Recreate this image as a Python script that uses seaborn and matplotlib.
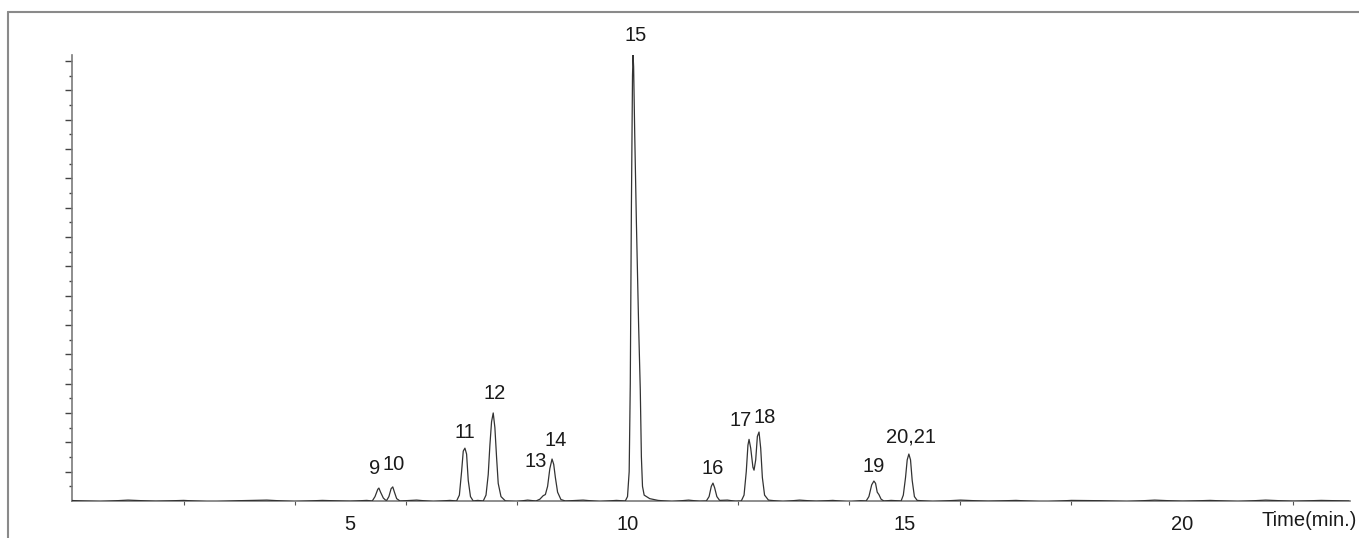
import matplotlib
matplotlib.use("Agg")
import matplotlib.pyplot as plt
from matplotlib.lines import Line2D
import seaborn as sns
import pandas as pd

# trace: retention time (min) and detector signal (arb. units)
time_min = [
    -0.08, 0.5, 1.0, 1.5, 2.0, 2.5, 3.0, 3.5, 4.0, 4.5, 5.0, 5.3,
    5.40, 5.45, 5.50, 5.52, 5.55, 5.60, 5.64,
    5.66, 5.70, 5.74, 5.77, 5.80, 5.84, 5.90,
    6.2, 6.5, 6.8,
    6.92, 6.97, 7.01, 7.04, 7.07, 7.10, 7.13, 7.17, 7.22,
    7.30,
    7.40, 7.45, 7.49, 7.52, 7.55, 7.58, 7.61, 7.64, 7.67, 7.72, 7.80,
    8.0, 8.2,
    8.35, 8.42, 8.48, 8.52, 8.56, 8.60, 8.64, 8.67, 8.70, 8.74, 8.80, 8.88,
    9.2, 9.5, 9.8,
    9.96, 10.00, 10.03, 10.05, 10.07, 10.09, 10.10, 10.11, 10.13, 10.16, 10.20,
    10.23, 10.25, 10.27, 10.30, 10.40, 10.55,
    10.8, 11.1, 11.3,
    11.42, 11.47, 11.51, 11.54, 11.57, 11.61, 11.66,
    11.8, 11.95,
    12.05, 12.10, 12.14, 12.17, 12.19, 12.22, 12.26, 12.28, 12.31, 12.34, 12.37,
    12.40, 12.43, 12.47, 12.54,
    12.8, 13.1, 13.4, 13.7, 14.0, 14.2,
    14.30, 14.35, 14.40, 14.44, 14.47, 14.50, 14.53, 14.57, 14.62,
    14.75,
    14.93, 14.97, 15.01, 15.04, 15.07, 15.10, 15.13, 15.17, 15.22,
    15.5, 16.0, 16.5, 17.0, 17.5, 18.0, 18.5, 19.0, 19.5, 20.0, 20.5, 21.0,
    21.5, 22.0, 22.5, 23.0,
]
signal = [
    0.2, -0.2, 0.3, -0.1, 0.2, -0.3, 0.1, 0.3, -0.2, 0.2, -0.1, 0.2,
    0.0, 1.5, 4.0, 4.4, 3.0, 1.0, 0.3,
    0.2, 1.5, 4.2, 4.8, 3.0, 0.8, 0.0,
    0.3, -0.2, 0.2,
    0.0, 2.0, 10.0, 17.0, 18.0, 16.0, 7.0, 1.5, 0.0,
    0.2,
    0.0, 2.0, 9.0, 19.0, 27.0, 30.0, 25.0, 15.0, 6.0, 1.5, 0.0,
    -0.2, 0.3,
    0.0, 0.6, 1.8, 2.2, 5.0, 11.0, 14.3, 12.5, 8.0, 3.0, 0.5, 0.0,
    0.3, -0.2, 0.2,
    0.0, 1.5, 10.0, 40.0, 100.0, 145.0, 152.0, 148.0, 125.0, 95.0, 60.0,
    38.0, 15.0, 5.0, 2.0, 0.8, 0.2,
    -0.2, 0.3, -0.1,
    0.0, 1.5, 5.0, 6.1, 4.5, 1.5, 0.2,
    0.3, -0.1,
    0.0, 2.0, 10.0, 19.0, 21.0, 18.0, 11.5, 10.5, 14.0, 22.0, 23.5,
    18.0, 8.0, 2.0, 0.3,
    -0.2, 0.3, -0.1, 0.2, -0.3, 0.1,
    0.0, 1.5, 5.5, 6.8, 6.0, 3.0, 2.2, 0.6, 0.0,
    0.2,
    0.0, 2.0, 8.0, 14.0, 16.0, 14.0, 7.0, 1.5, 0.2,
    -0.2, 0.3, -0.1, 0.2, -0.3, 0.2, 0.1, -0.2, 0.3, -0.1, 0.2, -0.2,
    0.3, -0.1, 0.2, 0.0,
]

peak_labels = ["9", "10", "11", "12", "13", "14", "15", "16", "17", "18", "19", "20,21"]
# label anchor positions (time, signal) for the peak numbers
label_t = [5.44, 5.79, 7.07, 7.61, 8.35, 8.70, 10.14, 11.53, 12.03, 12.48, 14.44, 15.10]
label_y = [11.2, 12.3, 23.5, 36.5, 13.3, 20.5, 158.5, 11.2, 27.3, 28.6, 11.6, 21.8]

x_ticks = [5, 10, 15, 20]

df = pd.DataFrame({"time": time_min, "signal": signal})

sns.set_style("ticks")
plt.rcParams["font.family"] = ["Liberation Sans", "DejaVu Sans"]

fig = plt.figure(figsize=(13.59, 5.38), dpi=100)
ax = fig.add_axes([0.0530, 0.0688, 0.9404, 0.8290])

sns.lineplot(data=df, x="time", y="signal", ax=ax, estimator=None, sort=False,
             color="#333333", linewidth=0.9, zorder=3)

ax.set_xlim(-0.01, 23.02)
ax.set_ylim(0, 152)
ax.set_xlabel("")
ax.set_ylabel("")

for side in ["top", "right"]:
    ax.spines[side].set_visible(False)
for side in ["left", "bottom"]:
    ax.spines[side].set_color("#7a7a7a")
    ax.spines[side].set_linewidth(1.2)

ax.set_yticks(range(10, 151, 10))
ax.set_yticks(range(5, 151, 10), minor=True)
ax.set_yticklabels([])
ax.tick_params(axis="y", which="major", length=5, width=1, color="#444444", direction="out")
ax.tick_params(axis="y", which="minor", length=2.5, width=1, color="#444444", direction="out")

ax.set_xticks(x_ticks)
ax.set_xticklabels([str(t) for t in x_ticks])
ax.set_xticks(range(2, 23, 2), minor=True)
ax.tick_params(axis="x", which="major", length=0, pad=10, labelsize=14.5, labelcolor="#1a1a1a")
ax.tick_params(axis="x", which="minor", length=3, width=0.8, color="#555555", direction="out")

for lab, t, y in zip(peak_labels, label_t, label_y):
    ax.text(t, y, lab, ha="center", va="center", fontsize=14.5, color="#1a1a1a", clip_on=False)

fig.text(0.9985, 0.032, "Time(min.)", ha="right", va="center", fontsize=14.5, color="#1a1a1a")

# outer frame (top and left edges)
fig.add_artist(Line2D([0.0059, 1.0], [0.9777, 0.9777], color="#8a8a8a", linewidth=1.5))
fig.add_artist(Line2D([0.0059, 0.0059], [0.0, 0.9777], color="#8a8a8a", linewidth=1.5))

fig.savefig("out.png", dpi=100)
